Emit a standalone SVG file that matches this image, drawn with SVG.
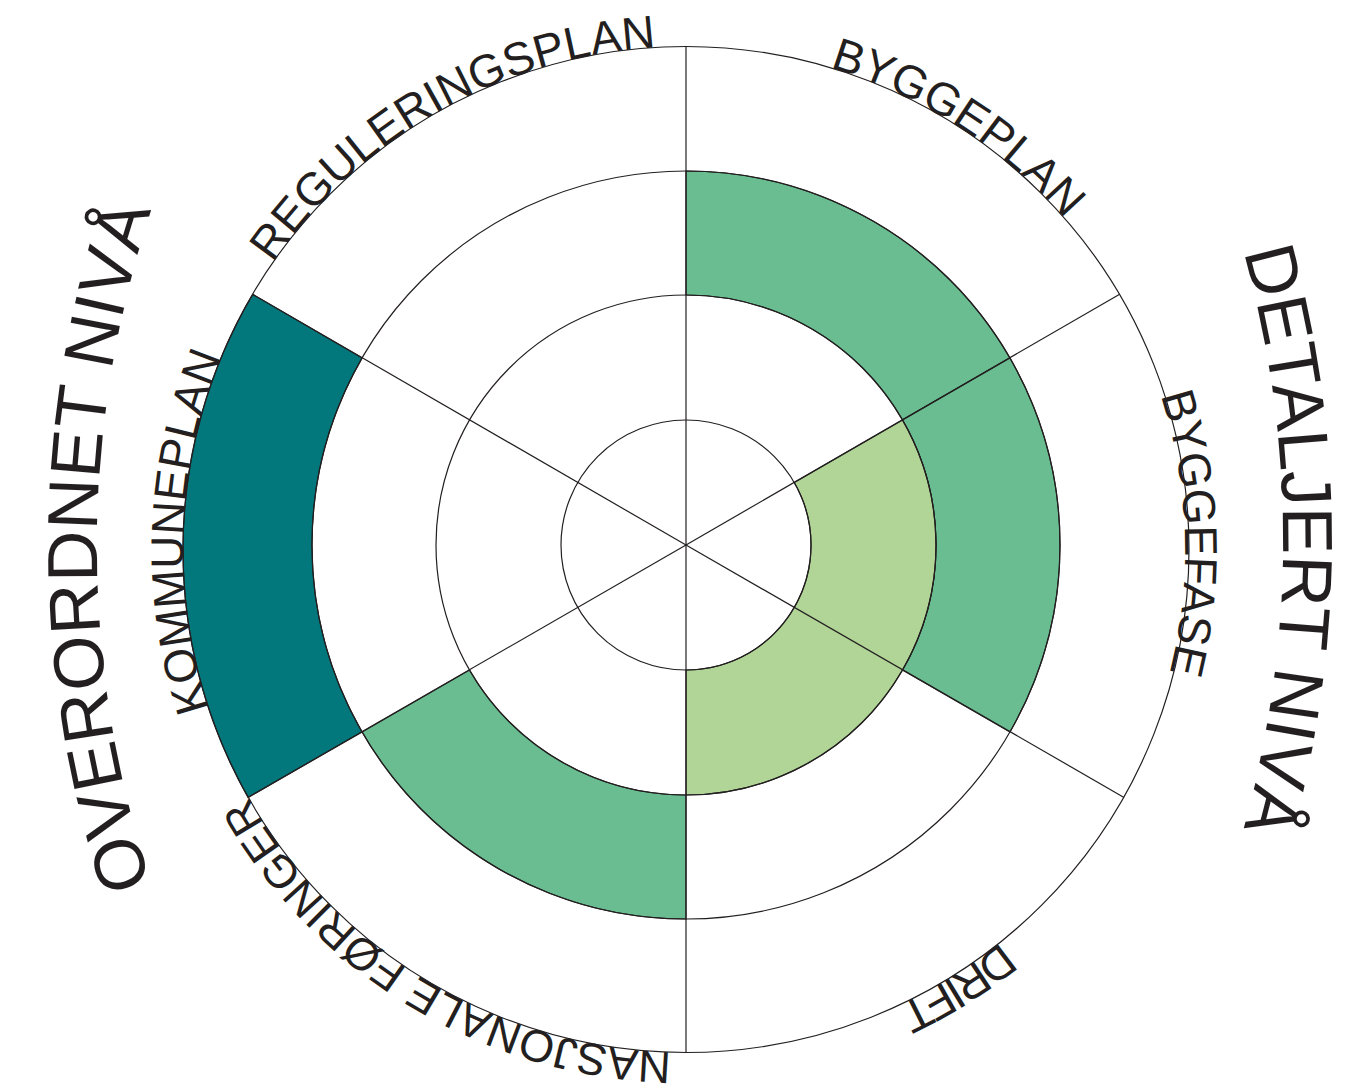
<svg xmlns="http://www.w3.org/2000/svg" xmlns:xlink="http://www.w3.org/1999/xlink" width="1364" height="1091" viewBox="0 0 1364 1091">
<style>
.ln{fill:none;stroke:#231F20;stroke-width:1.2}
.seg{stroke:#231F20;stroke-width:1.2}
.lbl{font-family:"Liberation Sans",Arial,sans-serif;font-size:46px;fill:#231F20}
.big{font-family:"Liberation Sans",Arial,sans-serif;font-size:71px;fill:#231F20}
</style>
<defs>
<path id="outer" d="M 686 46.5 A 503 503 0 0 1 686 1052.5 A 503 503 0 0 1 686 46.5"/>
<path id="outer2" d="M 686 50.5 A 499 499 0 0 1 686 1048.5 A 499 499 0 0 1 686 50.5"/>
<path id="leftArc" d="M 182.9 967 A 1070 1070 0 0 1 182.9 127"/>
<path id="rightArc" d="M 1197.1 120 A 1070 1070 0 0 1 1197.1 960"/>
</defs>
<rect width="1364" height="1091" fill="#ffffff"/>
<g id="segments">
<path id="seg-kommuneplan" class="seg" fill="#02787D" d="M 252.8 294.4 A 503 503 0 0 0 248 797.4 L 362.1 732 A 374 374 0 0 1 362.1 358 Z"/>
<path id="seg-byggeplan" class="seg" fill="#6ABD91" d="M 686 171 A 374 374 0 0 1 1009.9 358 L 902.5 420 A 250 250 0 0 0 686 295 Z"/>
<path id="seg-byggefase" class="seg" fill="#6ABD91" d="M 1009.9 358 A 374 374 0 0 1 1009.9 732 L 902.5 670 A 250 250 0 0 0 902.5 420 Z"/>
<path id="seg-nasjonale" class="seg" fill="#6ABD91" d="M 686 919 A 374 374 0 0 1 362.1 732 L 469.5 670 A 250 250 0 0 0 686 795 Z"/>
<path id="seg-inner" class="seg" fill="#B1D596" d="M 902.5 420 A 250 250 0 0 1 686 795 L 686 670 A 125 125 0 0 0 794.3 482.5 Z"/>
</g>
<g id="rings">
<circle class="ln" cx="686" cy="545" r="125"/>
<circle class="ln" cx="686" cy="545" r="250"/>
<circle class="ln" cx="686" cy="545" r="374"/>
<circle class="ln" cx="686" cy="549.5" r="503"/>
</g>
<g id="connectors">
<line class="ln" x1="686" y1="545" x2="686" y2="46.5"/>
<line class="ln" x1="686" y1="545" x2="1119.2" y2="294.4"/>
<line class="ln" x1="686" y1="545" x2="1124" y2="797.4"/>
<line class="ln" x1="686" y1="545" x2="686" y2="1052.5"/>
<line class="ln" x1="686" y1="545" x2="248" y2="797.4"/>
<line class="ln" x1="686" y1="545" x2="252.8" y2="294.4"/>
</g>
<g id="label-byggeplan"><text class="lbl"><textPath xlink:href="#outer" href="#outer" startOffset="145.7">BYGGEPLAN</textPath></text></g>
<g id="label-byggefase"><text class="lbl"><textPath xlink:href="#outer2" href="#outer2" startOffset="627">BYGGEFASE</textPath></text></g>
<g id="label-drift"><text class="lbl" letter-spacing="-3.5"><textPath xlink:href="#outer" href="#outer" startOffset="1239.6">DRIFT</textPath></text></g>
<g id="label-nasjonale"><text class="lbl" style="font-size:45px"><textPath xlink:href="#outer" href="#outer" startOffset="1594">NASJONALE FØRINGER</textPath></text></g>
<g id="label-kommuneplan"><text class="lbl"><textPath xlink:href="#outer" href="#outer" startOffset="2207">KOMMUNEPLAN</textPath></text></g>
<g id="label-reguleringsplan"><text class="lbl"><textPath xlink:href="#outer" href="#outer" startOffset="2674">REGULERINGSPLAN</textPath></text></g>
<g id="label-overordnet"><text class="big" text-anchor="middle"><textPath xlink:href="#leftArc" href="#leftArc" startOffset="50%">OVERORDNET NIVÅ</textPath></text></g>
<g id="label-detaljert"><text class="big" text-anchor="middle"><textPath xlink:href="#rightArc" href="#rightArc" startOffset="50%">DETALJERT NIVÅ</textPath></text></g>
</svg>
